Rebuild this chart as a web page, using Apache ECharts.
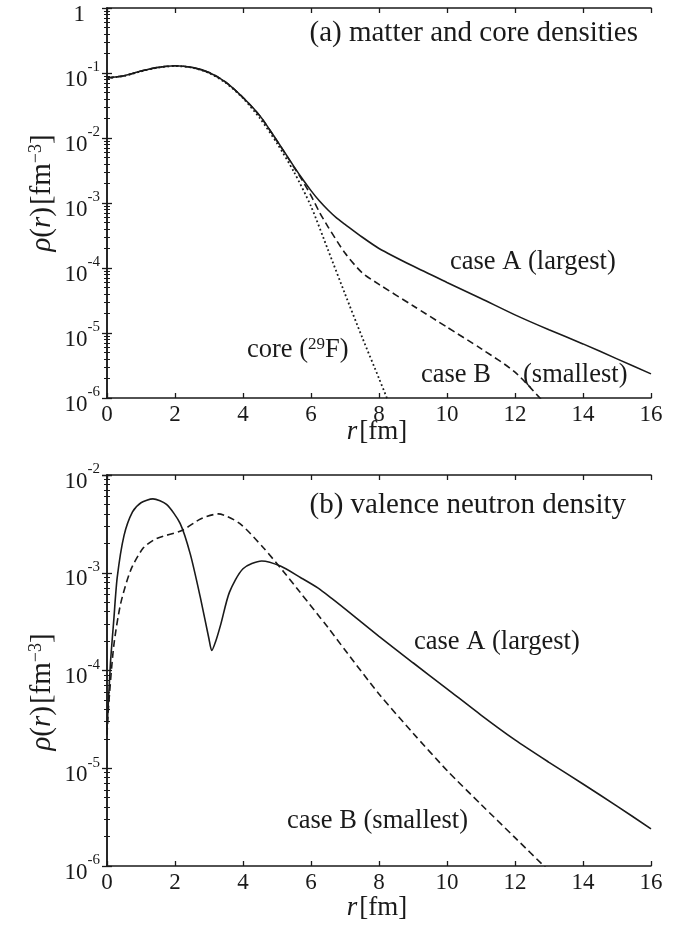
<!DOCTYPE html>
<html>
<head>
<meta charset="utf-8">
<script src="https://cdn.jsdelivr.net/npm/echarts@6/dist/echarts.min.js"></script>
<style>
html,body{margin:0;padding:0;background:#fff}
#chart{width:689px;height:926px}
</style>
</head>
<body>
<div id="chart"></div>
<script>
// (a) matter and core densities
var rMatterA = [0,0.5,1,1.5,2,2.5,3,3.5,4,4.5,5,5.5,5.75,6,6.25,6.5,6.75,7,7.5,8,9,10,11,12,13,14,15,16];
var matterA = [8.4e-2,9.1e-2,1.07e-1,1.22e-1,1.29e-1,1.22e-1,1.02e-1,7.2e-2,4.2e-2,2.19e-2,9.1e-3,3.63e-3,2.34e-3,1.55e-3,1.07e-3,7.8e-4,5.9e-4,4.7e-4,3.0e-4,2.0e-4,1.07e-4,6.0e-5,3.4e-5,1.9e-5,1.12e-5,6.8e-6,4.0e-6,2.35e-6];
var rMatterB = [0,0.5,1,1.5,2,2.5,3,3.5,4,4.5,5,5.5,5.75,6,6.25,6.5,7,7.5,8,9,10,11,12,13];
var matterB = [8.4e-2,9.1e-2,1.07e-1,1.22e-1,1.29e-1,1.22e-1,1.02e-1,7.2e-2,4.2e-2,2.17e-2,9.0e-3,3.55e-3,2.2e-3,1.3e-3,7.2e-4,4.3e-4,1.7e-4,8.5e-5,5.6e-5,2.63e-5,1.23e-5,5.75e-6,2.5e-6,7e-7];
var rCore = [0,0.5,1,1.5,2,2.5,3,3.5,4,4.5,5,5.5,6,6.5,7,7.5,8,8.5];
var core = [8.3e-2,9.0e-2,1.06e-1,1.21e-1,1.28e-1,1.21e-1,1.0e-1,7.0e-2,4.1e-2,2.0e-2,8.3e-3,3.0e-3,8.9e-4,1.9e-4,4.0e-5,8.7e-6,2.0e-6,4.5e-7];

// (b) valence neutron density
var rValA = [0,0.1,0.2,0.3,0.5,0.75,1,1.35,1.75,2.15,2.45,2.75,3.0,3.08,3.2,3.35,3.6,4.0,4.55,5.1,5.7,6.2,6.6,7,8,9,10,11,12,13,14,15,16];
var valA = [2.5e-5,1.17e-4,3.3e-4,8.9e-4,2.4e-3,4.2e-3,5.2e-3,5.7e-3,5.0e-3,3.2e-3,1.55e-3,5.5e-4,2.1e-4,1.6e-4,2.0e-4,3.0e-4,6.3e-4,1.1e-3,1.32e-3,1.17e-3,8.9e-4,7.0e-4,5.5e-4,4.27e-4,2.24e-4,1.2e-4,6.5e-5,3.5e-5,1.95e-5,1.15e-5,6.9e-6,4.1e-6,2.4e-6];
var rValB = [0,0.05,0.2,0.4,0.7,1.07,1.46,2.2,2.75,3.27,3.9,4.6,5.2,5.65,6.5,7,8,9,10,11,12,13];
var valB = [2.2e-5,4.5e-5,1.8e-4,4.8e-4,1.07e-3,1.8e-3,2.24e-3,2.7e-3,3.55e-3,4.0e-3,3.2e-3,1.8e-3,1.02e-3,6.5e-4,2.75e-4,1.62e-4,5.75e-5,2.29e-5,9.5e-6,4.27e-6,1.95e-6,8.9e-7];

var serif = '"Liberation Serif", "DejaVu Serif", serif';
var ink = '#1a1a1a';

function pairs(xs, ys){
    return xs.map(function(x, i){ return [x, ys[i]]; });
}
function expLabel(v){
    var e = Math.round(Math.log10(v));
    if (e === 0) return '{o|1}';
    return '{b|10}{s|' + e + '}';
}
var tickRich = {
    b: {fontSize: 23, fontFamily: serif, color: ink, lineHeight: 36, verticalAlign: 'bottom'},
    o: {fontSize: 23, fontFamily: serif, color: ink, lineHeight: 36, verticalAlign: 'bottom', padding: [0, 15, 0, 0]},
    s: {fontSize: 15, fontFamily: serif, color: ink, verticalAlign: 'top', padding: [5, 0, 0, 0]}
};

function xAxes(gi){
    return [{
        gridIndex: gi, type: 'value', min: 0, max: 16, interval: 2, position: 'bottom',
        axisLine: {lineStyle: {color: ink, width: 1.5}},
        axisTick: {inside: true, length: 5, lineStyle: {color: ink, width: 1.3}},
        axisLabel: {color: ink, fontFamily: serif, fontSize: 23, margin: 5},
        splitLine: {show: false}
    }, {
        gridIndex: gi, type: 'value', min: 0, max: 16, interval: 2, position: 'top',
        axisLine: {lineStyle: {color: ink, width: 1.5}},
        axisTick: {inside: true, length: 5, lineStyle: {color: ink, width: 1.3}},
        axisLabel: {show: false},
        splitLine: {show: false}
    }];
}
function yAxes(gi, min, max){
    var base = {
        gridIndex: gi, type: 'log', logBase: 10, min: min, max: max,
        axisLine: {show: true, lineStyle: {color: ink, width: 1.5}},
        axisTick: {show: true, inside: true, length: 5, lineStyle: {color: ink, width: 1.3}},
        minorTick: {show: true, splitNumber: 9, length: 3, lineStyle: {color: ink, width: 1}},
        splitLine: {show: false}
    };
    var left = Object.assign({}, base, {
        position: 'left',
        axisLabel: {formatter: expLabel, rich: tickRich, margin: 7}
    });
    var right = Object.assign({}, base, {
        position: 'right',
        axisLabel: {show: false}
    });
    return [left, right];
}

function line(name, xi, yi, data, type, width){
    return {
        name: name, type: 'line', xAxisIndex: xi, yAxisIndex: yi,
        data: data, symbol: 'none', smooth: 0.25,
        clip: true, silent: true,
        lineStyle: {color: ink, width: width || 1.6, type: type}
    };
}

function txt(x, y, text, size, extra){
    var o = {type: 'text', x: x, y: y, style: {
        text: text, fill: ink, font: size + 'px ' + serif,
        align: 'left', verticalAlign: 'middle'
    }};
    if (extra) Object.assign(o.style, extra);
    return o;
}

function annRich(size, sup){
    return {
        n: {font: size + 'px ' + serif, fill: ink},
        i: {font: 'italic ' + size + 'px ' + serif, fill: ink},
        g: {font: '8px ' + serif, fill: ink},
        s: {font: sup + 'px ' + serif, fill: ink, verticalAlign: 'top', lineHeight: 14}
    };
}
var yName = '{i|ρ}{n|(}{i|r}{n|)}{g| }{n|[fm}{s|−3}{n|]}';
var xName = '{i|r}{g| }{n|[fm]}';

var chart = echarts.init(document.getElementById('chart'));
chart.setOption({
    backgroundColor: '#fff',
    animation: false,
    grid: [
        {left: 107, top: 8, width: 544, height: 390},
        {left: 107, top: 475, width: 544, height: 391}
    ],
    xAxis: xAxes(0).concat(xAxes(1)),
    yAxis: yAxes(0, 1e-6, 1).concat(yAxes(1, 1e-6, 1e-2)),
    series: [
        line('case A', 0, 0, pairs(rMatterA, matterA), 'solid'),
        line('case B', 0, 0, pairs(rMatterB, matterB), [7, 4]),
        line('core', 0, 0, pairs(rCore, core), [1.8, 2.6], 1.8),
        line('case A', 2, 2, pairs(rValA, valA), 'solid'),
        line('case B', 2, 2, pairs(rValB, valB), [7, 4])
    ],
    graphic: [
        txt(638, 33, '(a) matter and core densities', 29, {align: 'right'}),
        txt(450, 262, 'case A (largest)', 26.5),
        txt(421, 375, 'case B', 26.5),
        txt(523, 375, '(smallest)', 26.5),
        {type: 'text', x: 247, y: 350, style: {
            text: '{n|core (}{s|29}{n|F)}', rich: annRich(26.5, 17), align: 'left', verticalAlign: 'middle'
        }},
        txt(626, 505, '(b) valence neutron density', 29, {align: 'right'}),
        txt(414, 642, 'case A (largest)', 26.5),
        txt(287, 821, 'case B (smallest)', 26.5),
        {type: 'text', x: 377, y: 432, style: {
            text: xName, rich: annRich(27, 17), align: 'center', verticalAlign: 'middle'
        }},
        {type: 'text', x: 377, y: 908, style: {
            text: xName, rich: annRich(27, 17), align: 'center', verticalAlign: 'middle'
        }},
        {type: 'text', x: 42, y: 193, rotation: Math.PI / 2, style: {
            text: yName, rich: annRich(29, 18), align: 'center', verticalAlign: 'middle'
        }},
        {type: 'text', x: 42, y: 692, rotation: Math.PI / 2, style: {
            text: yName, rich: annRich(29, 18), align: 'center', verticalAlign: 'middle'
        }}
    ]
});
</script>
</body>
</html>
